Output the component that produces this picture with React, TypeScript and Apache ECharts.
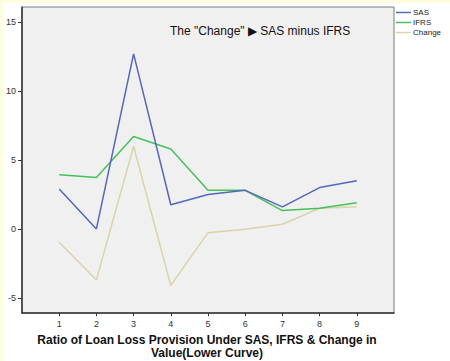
import React, { useEffect, useRef } from "react";
import * as echarts from "echarts";

const categories = [1, 2, 3, 4, 5, 6, 7, 8, 9];
const sasValues = [2.9, 0.0, 12.7, 1.75, 2.5, 2.8, 1.6, 3.0, 3.5];
const ifrsValues = [3.93, 3.73, 6.7, 5.8, 2.8, 2.8, 1.33, 1.5, 1.9];
const changeValues = [-0.97, -3.7, 6.0, -4.1, -0.27, -0.02, 0.34, 1.5, 1.6];
const yTicks = [-5, 0, 5, 10, 15];
const seriesNames = ["SAS", "IFRS", "Change"];
const seriesColors = ["#5468b8", "#46c05a", "#d9d4a6"];

export default function App() {
  const ref = useRef<HTMLDivElement>(null);
  useEffect(() => {
    if (!ref.current) return;
    const chart = echarts.init(ref.current, undefined, { renderer: "svg" });
    const all = [sasValues, ifrsValues, changeValues];
    chart.setOption({
      animation: false,
      backgroundColor: "#ffffff",
      grid: {
        left: 22,
        top: 7,
        right: 56,
        bottom: 48,
        show: true,
        backgroundColor: "#f0f0f0",
        borderColor: "#7a7a7a",
        borderWidth: 1,
      },
      legend: {
        orient: "vertical",
        left: 396,
        top: 8,
        icon: "rect",
        itemWidth: 15,
        itemHeight: 1.5,
        itemGap: 1,
        padding: 0,
        textStyle: { fontSize: 8, fontFamily: "Arial, Liberation Sans", color: "#222", padding: [0, 0, 0, -3], lineHeight: 9 },
        data: seriesNames,
      },
      xAxis: {
        type: "value",
        min: 0,
        max: 10,
        interval: 1,
        axisLine: { show: true, onZero: false, lineStyle: { color: "#333", width: 1.5 } },
        axisTick: { show: true, customValues: categories, length: 3, lineStyle: { color: "#333" } },
        axisLabel: {
          customValues: categories,
          fontSize: 9,
          color: "#333",
          fontFamily: "Arial, Liberation Sans",
          margin: 6,
        },
        splitLine: { show: false },
      },
      yAxis: {
        type: "value",
        min: -6.1,
        max: 16.1,
        axisLine: { show: true, onZero: false, lineStyle: { color: "#333", width: 1.5 } },
        axisTick: { show: true, customValues: yTicks, length: 4, lineStyle: { color: "#333" } },
        axisLabel: {
          customValues: yTicks,
          fontSize: 9,
          color: "#333",
          fontFamily: "Arial, Liberation Sans",
          margin: 6,
        },
        splitLine: { show: false },
      },
      series: seriesNames.map((name, i) => ({
        name,
        type: "line",
        data: categories.map((c, j) => [c, all[i][j]]),
        symbol: "none",
        lineStyle: { color: seriesColors[i], width: 1.5 },
        itemStyle: { color: seriesColors[i] },
        z: 3 - i,
      })),
      graphic: [
        { type: "rect", left: 0, top: 0, shape: { width: 450, height: 3 }, style: { fill: "#fdfde0" }, silent: true },
        { type: "rect", left: 0, top: 0, shape: { width: 3, height: 361 }, style: { fill: "#fdfde0" }, silent: true },
        {
          type: "text",
          left: 170,
          top: 25,
          style: {
            text: 'The "Change" \u25B6 SAS minus IFRS',
            fontSize: 12,
            fontFamily: "Arial, Liberation Sans",
            fill: "#111",
          },
        },
        {
          type: "text",
          x: 207,
          y: 333,
          style: {
            text: "Ratio of Loan Loss Provision Under SAS, IFRS & Change in\nValue(Lower Curve)",
            fontSize: 12,
            fontWeight: "bold",
            fontFamily: "Arial, Liberation Sans",
            fill: "#111",
            align: "center",
            lineHeight: 13,
          },
        },
      ],
    });
    return () => chart.dispose();
  }, []);
  return (
    <div
      ref={ref}
      style={{ position: "fixed", left: 0, top: 0, width: 450, height: 361 }}
    />
  );
}
